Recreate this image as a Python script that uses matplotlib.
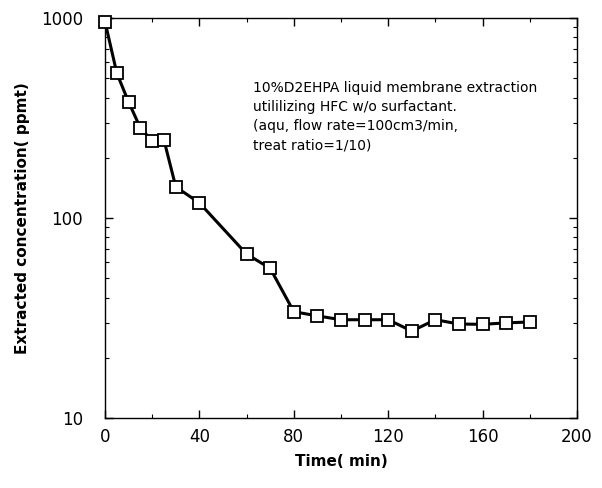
import matplotlib.pyplot as plt
from matplotlib.ticker import FixedLocator, NullFormatter

# data
time_min = [0, 5, 10, 15, 20, 25, 30, 40, 60, 70, 80, 90, 100, 110, 120, 130, 140, 150, 160, 170, 180]
conc_ppm = [960, 530, 380, 282, 243, 245, 143, 119, 66, 56, 34, 32.4, 31, 31, 31, 27.2, 31, 29.5, 29.4, 29.9, 30.2]

x_ticks = [0, 40, 80, 120, 160, 200]
y_ticks = [10, 100, 1000]
note = ("10%D2EHPA liquid membrane extraction\n"
        "utililizing HFC w/o surfactant.\n"
        "(aqu, flow rate=100cm3/min,\n"
        "treat ratio=1/10)")

plt.rcParams['font.family'] = ['DejaVu Sans']

fig = plt.figure(figsize=(6.02, 4.88), dpi=100)
ax = fig.add_axes([105/602, 70/488, 472/602, 400/488])

ax.plot(time_min, conc_ppm, color='black', linewidth=2.2,
        marker='s', markersize=9, markerfacecolor='white',
        markeredgecolor='black', markeredgewidth=1.3, clip_on=False, zorder=3)

ax.set_yscale('log')
ax.set_xlim(0, 200)
ax.set_ylim(10, 1000)
ax.set_xticks(x_ticks)
ax.set_xticklabels([str(t) for t in x_ticks])
ax.xaxis.set_minor_locator(FixedLocator([20, 60, 100, 140, 180]))
ax.set_yticks(y_ticks)
ax.set_yticklabels([str(t) for t in y_ticks])
ax.yaxis.set_minor_formatter(NullFormatter())

ax.tick_params(which='both', direction='in', top=True, right=True, labelsize=12)
ax.tick_params(axis='x', pad=7)
ax.tick_params(axis='y', pad=16)
ax.tick_params(which='major', length=6, width=1)
ax.tick_params(which='minor', length=3, width=0.8)
for s in ax.spines.values():
    s.set_linewidth(1)

ax.set_xlabel('Time( min)', fontsize=11, fontweight='bold', labelpad=6)
ax.set_ylabel('Extracted concentration( ppmt)', fontsize=11, fontweight='bold', labelpad=8)

ax.text(0.314, 0.842, note, transform=ax.transAxes, fontsize=10,
        va='top', ha='left', linespacing=1.45)

fig.savefig('out.png', dpi=100)
